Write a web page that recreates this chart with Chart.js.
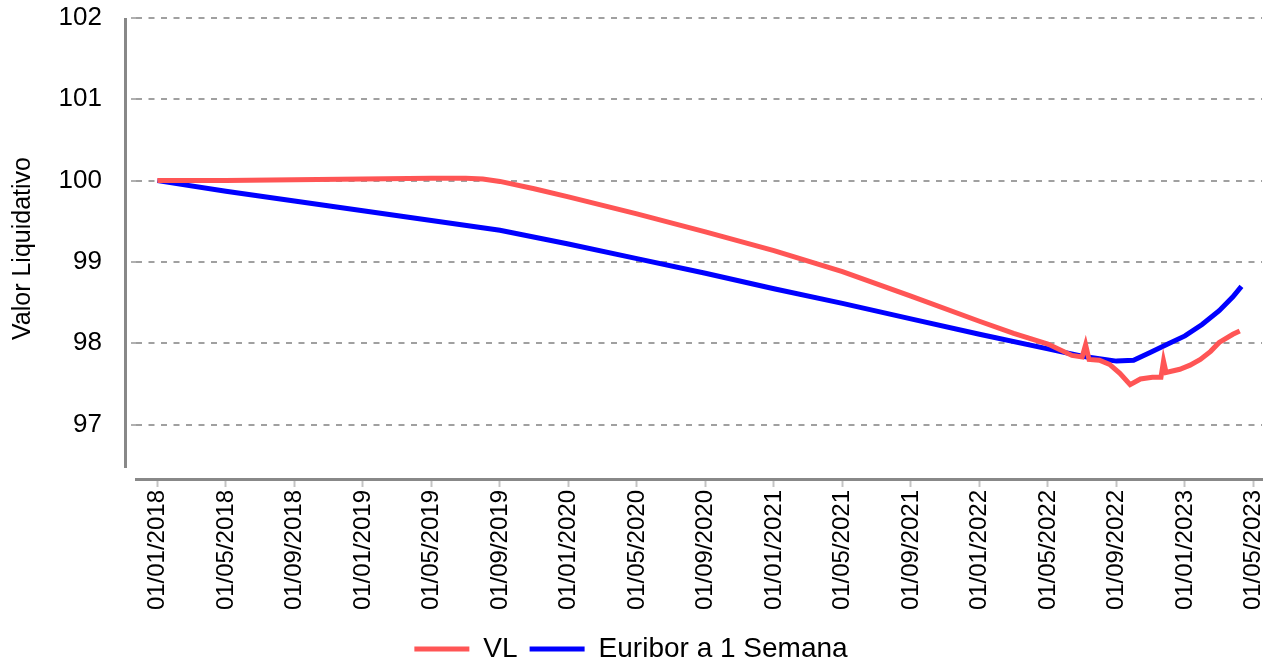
<!DOCTYPE html>
<html>
<head>
<meta charset="utf-8">
<script src="https://cdn.jsdelivr.net/npm/chart.js@4.4.1/dist/chart.umd.min.js"></script>
<style>
  html, body { margin: 0; padding: 0; background: #fff; overflow: hidden; }
  #wrap { width: 1275px; height: 660px; }
</style>
</head>
<body>
<div id="wrap"><canvas id="c" width="1275" height="660"></canvas></div>
<script>
// ---- data (x = months since 01/01/2018) ----
const tickMonths = [0, 4, 8, 12, 16, 20, 24, 28, 32, 36, 40, 44, 48, 52, 56, 60, 64];
const tickLabels = ['01/01/2018','01/05/2018','01/09/2018','01/01/2019','01/05/2019','01/09/2019',
  '01/01/2020','01/05/2020','01/09/2020','01/01/2021','01/05/2021','01/09/2021',
  '01/01/2022','01/05/2022','01/09/2022','01/01/2023','01/05/2023'];
const yTicks = [97, 98, 99, 100, 101, 102];

const vlMonths = [0, 4, 8, 12, 16, 18, 19, 20, 22, 24, 28, 32, 36, 40, 44, 48, 50, 52, 53.4, 54.0, 54.2, 54.4,
  55.0, 55.6, 56.2, 56.8, 57.4, 58.1, 58.6, 58.75, 58.9, 59.7, 60.3, 60.9, 61.5, 62.0, 62.8, 63.2];
const vlValues = [100.00, 100.00, 100.01, 100.02, 100.03, 100.03, 100.02, 99.99, 99.90, 99.80, 99.59, 99.37,
  99.14, 98.88, 98.58, 98.27, 98.12, 97.99, 97.85, 97.83, 97.98, 97.80,
  97.79, 97.74, 97.63, 97.49, 97.56, 97.58, 97.58, 97.78, 97.64, 97.68, 97.73, 97.80, 97.90, 98.01, 98.11, 98.15];

const euriborMonths = [0, 4, 8, 12, 16, 20, 24, 28, 32, 36, 40, 44, 48, 52, 54, 56, 57, 58, 59, 60, 61, 62, 62.8, 63.3];
const euriborValues = [100.00, 99.87, 99.75, 99.63, 99.51, 99.39, 99.22, 99.04, 98.86, 98.67, 98.49, 98.30,
  98.11, 97.93, 97.84, 97.78, 97.79, 97.89, 97.99, 98.09, 98.23, 98.40, 98.57, 98.70];

const seriesNames = ['VL', 'Euribor a 1 Semana'];

Chart.defaults.font.family = "'Liberation Sans', Arial, sans-serif";
Chart.defaults.color = '#000';

const yAxisLine = {
  id: 'yAxisLine',
  afterDraw(chart) {
    const ctx = chart.ctx, a = chart.chartArea;
    ctx.save();
    ctx.strokeStyle = '#888';
    ctx.lineWidth = 3;
    ctx.beginPath();
    ctx.moveTo(a.left - 10.5, a.top);
    ctx.lineTo(a.left - 10.5, a.bottom - 11);
    ctx.stroke();
    ctx.restore();
  }
};

new Chart(document.getElementById('c'), {
  type: 'line',
  data: {
    datasets: [
      {
        label: seriesNames[0],
        data: vlMonths.map((m, i) => ({x: m, y: vlValues[i]})),
        borderColor: 'rgb(255,85,85)',
        backgroundColor: 'rgb(255,85,85)',
        borderWidth: 5,
        pointRadius: 0,
        tension: 0
      },
      {
        label: seriesNames[1],
        data: euriborMonths.map((m, i) => ({x: m, y: euriborValues[i]})),
        borderColor: '#0000ff',
        backgroundColor: '#0000ff',
        borderWidth: 5,
        pointRadius: 0,
        tension: 0
      }
    ]
  },
  options: {
    responsive: false,
    animation: false,
    layout: { padding: { top: 18, right: 13, left: 0, bottom: -13 } },
    scales: {
      x: {
        type: 'linear',
        min: -1.25,
        max: 64.5,
        afterBuildTicks: (s) => { s.ticks = tickMonths.map(v => ({value: v})); },
        afterFit: (s) => { s.height = 144; s.paddingLeft = 0; s.paddingRight = 0; },
        grid: { drawOnChartArea: false, drawTicks: true, tickLength: 8, tickColor: '#c4c4c4', tickWidth: 2 },
        border: { display: true, color: '#888', width: 3 },
        ticks: {
          autoSkip: false,
          maxRotation: 90,
          minRotation: 90,
          padding: 3,
          font: { size: 24 },
          callback: (v) => { const i = tickMonths.indexOf(v); return i >= 0 ? tickLabels[i] : ''; }
        }
      },
      y: {
        type: 'linear',
        min: 96.33,
        max: 102,
        afterBuildTicks: (s) => { s.ticks = yTicks.map(v => ({value: v})); },
        afterFit: (s) => { s.width = 136; s.paddingTop = 0; s.paddingBottom = 0; },
        grid: {
          color: '#a0a0a0',
          lineWidth: 2,
          drawTicks: true,
          tickLength: 19,
          tickColor: '#b0b0b0',
          tickBorderDash: [0, 14, 5, 0]
        },
        border: { display: false, dash: [6, 6.5] },
        ticks: { padding: 15, font: { size: 26 } },
        title: { display: true, text: 'Valor Liquidativo', font: { size: 25 }, padding: { top: 8, bottom: 0 } }
      }
    },
    plugins: {
      legend: {
        position: 'bottom',
        labels: {
          usePointStyle: true,
          pointStyle: 'line',
          pointStyleWidth: 55,
          padding: 12,
          font: { size: 28 },
          color: '#000'
        }
      },
      tooltip: { enabled: false }
    }
  },
  plugins: [yAxisLine]
});
</script>
</body>
</html>
